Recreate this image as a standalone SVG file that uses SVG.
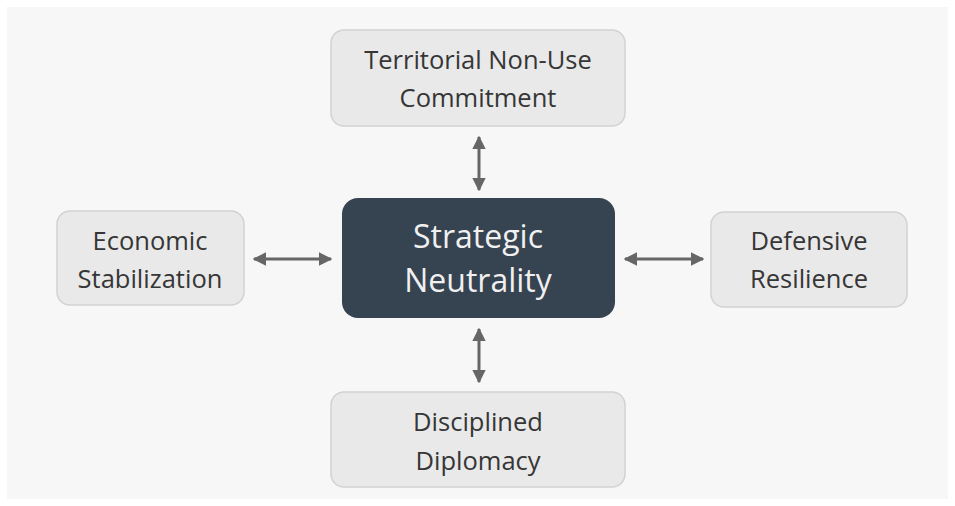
<svg xmlns="http://www.w3.org/2000/svg" width="955" height="506" viewBox="0 0 955 506">
<style>
.box{fill:#e9e9e9;stroke:#d2d2d2;stroke-width:1.5}
.lbl{font-family:"Open Sans",Lato,sans-serif;font-size:25.5px;fill:#363636;text-anchor:middle}
.ctr{font-family:"Open Sans",Lato,sans-serif;font-size:32px;fill:#f0f0f0;text-anchor:middle}
.con{stroke:#666;stroke-width:3;fill:none;marker-start:url(#ah);marker-end:url(#ah)}
</style>
<defs>
<marker id="ah" viewBox="0 0 10 10" refX="9" refY="5" markerWidth="4.5" markerHeight="4.5" orient="auto-start-reverse" markerUnits="strokeWidth">
<path d="M0,0 L10,5 L0,10 z" fill="#666"/>
</marker>
</defs>
<rect width="955" height="506" fill="#ffffff"/>
<rect x="7" y="7" width="941" height="492" fill="#f7f7f7"/>
<g id="connectors">
<line class="con" x1="479" y1="137" x2="479" y2="190"/>
<line class="con" x1="479" y1="329" x2="479" y2="382"/>
<line class="con" x1="254" y1="259" x2="331" y2="259"/>
<line class="con" x1="625" y1="259" x2="703" y2="259"/>
</g>
<g id="n_top">
<rect class="box" x="331" y="30" width="294" height="96" rx="13"/>
<text class="lbl" x="478" y="69">Territorial Non-Use</text>
<text class="lbl" x="478" y="107">Commitment</text>
</g>
<g id="n_center">
<rect x="342" y="198" width="273" height="120" rx="16" fill="#364350"/>
<text class="ctr" x="478" y="248">Strategic</text>
<text class="ctr" x="478" y="292">Neutrality</text>
</g>
<g id="n_left">
<rect class="box" x="57" y="211" width="187" height="94" rx="13"/>
<text class="lbl" x="150" y="250">Economic</text>
<text class="lbl" x="150" y="288">Stabilization</text>
</g>
<g id="n_right">
<rect class="box" x="711" y="212" width="196" height="95" rx="13"/>
<text class="lbl" x="809" y="250">Defensive</text>
<text class="lbl" x="809" y="288">Resilience</text>
</g>
<g id="n_bottom">
<rect class="box" x="331" y="392" width="294" height="95" rx="13"/>
<text class="lbl" x="478" y="431">Disciplined</text>
<text class="lbl" x="478" y="470">Diplomacy</text>
</g>
</svg>
